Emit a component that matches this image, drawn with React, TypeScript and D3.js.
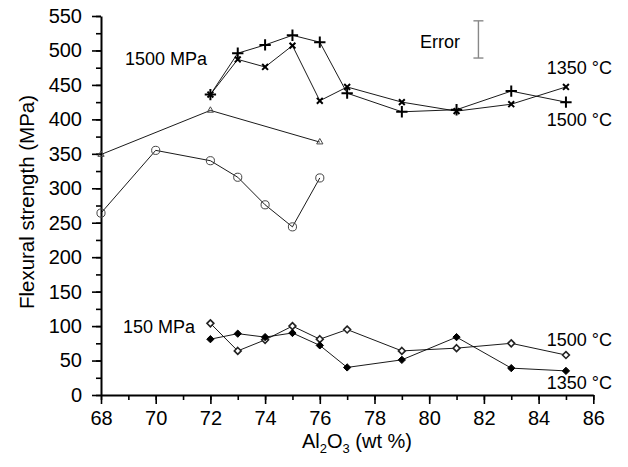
import React, { useEffect, useRef } from "react";
import * as d3 from "d3";

// flexural strength vs Al2O3 content, 1500 MPa and 150 MPa pressing

const plusX = [72, 73, 74, 75, 76, 77, 79, 81, 83, 85];
const plusY = [436, 496, 508, 522, 512, 438, 411, 414, 441, 425]; // 1500 °C
const timesX = [72, 73, 74, 75, 76, 77, 79, 81, 83, 85];
const timesY = [436, 487, 476, 507, 427, 447, 425, 412, 422, 447]; // 1350 °C
const triX = [68, 72, 76];
const triY = [349, 413, 367];
const circX = [68, 70, 72, 73, 74, 75, 76];
const circY = [264, 355, 340, 316, 276, 244, 315];
const openDiaX = [72, 73, 74, 75, 76, 77, 79, 81, 83, 85];
const openDiaY = [104, 64, 80, 100, 81, 95, 64, 68, 75, 58]; // 1500 °C
const fillDiaX = [72, 73, 74, 75, 76, 77, 79, 81, 83, 85];
const fillDiaY = [81, 89, 84, 90, 72, 40, 51, 84, 39, 35]; // 1350 °C

const xTicks = [68, 70, 72, 74, 76, 78, 80, 82, 84, 86];
const yTicks = [0, 50, 100, 150, 200, 250, 300, 350, 400, 450, 500, 550];
const errorBar = { x: 81.8, lo: 489, hi: 543 };

const FONT = "'Liberation Sans', Arial, sans-serif";

export default function App() {
  const svgRef = useRef<SVGSVGElement | null>(null);

  useEffect(() => {
    const svg = d3.select(svgRef.current);
    svg.selectAll("*").remove();

    const x = d3.scaleLinear().domain([68, 86]).range([101, 593.3]);
    const y = d3.scaleLinear().domain([0, 550]).range([395, 16]);

    const g = svg.append("g");

    // minor ticks
    g.append("g")
      .attr("transform", "translate(0,395)")
      .call(d3.axisBottom(x).tickValues(d3.range(68, 87, 1)).tickSize(5).tickFormat(() => "").tickSizeOuter(0))
      .call((s) => s.select(".domain").remove());
    g.append("g")
      .attr("transform", "translate(101,0)")
      .call(d3.axisLeft(y).tickValues(d3.range(0, 551, 25)).tickSize(5).tickFormat(() => "").tickSizeOuter(0))
      .call((s) => s.select(".domain").remove());

    const xAxis = g.append("g")
      .attr("transform", "translate(0,395)")
      .call(d3.axisBottom(x).tickValues(xTicks).tickSize(9).tickPadding(7).tickSizeOuter(0));
    const yAxis = g.append("g")
      .attr("transform", "translate(101,0)")
      .call(d3.axisLeft(y).tickValues(yTicks).tickSize(9).tickPadding(10).tickSizeOuter(0));

    [xAxis, yAxis].forEach((a) => {
      a.select(".domain").attr("stroke", "#000").attr("stroke-width", 2);
      a.selectAll("text").attr("font-size", 20).attr("font-family", FONT).attr("fill", "#000");
    });
    g.selectAll(".tick line").attr("stroke", "#000").attr("stroke-width", 1.6);

    const line = d3.line<[number, number]>().x((d) => x(d[0])).y((d) => y(d[1]));
    const zip = (xs: number[], ys: number[]) => xs.map((v, i) => [v, ys[i]] as [number, number]);

    const series = [
      { pts: zip(triX, triY), sym: d3.symbolTriangle2, size: 28, fill: "none", stroke: "#444", sw: 1 },
      { pts: zip(circX, circY), sym: d3.symbolCircle, size: 52, fill: "none", stroke: "#444", sw: 1 },
      { pts: zip(timesX, timesY), sym: d3.symbolTimes, size: 24, fill: "none", stroke: "#000", sw: 2 },
      { pts: zip(plusX, plusY), sym: d3.symbolPlus, size: 44, fill: "none", stroke: "#000", sw: 2 },
      { pts: zip(openDiaX, openDiaY), sym: d3.symbolDiamond2, size: 30, fill: "#fff", stroke: "#222", sw: 1.6 },
      { pts: zip(fillDiaX, fillDiaY), sym: d3.symbolDiamond2, size: 34, fill: "#000", stroke: "#000", sw: 1 },
    ];

    series.forEach((s) => {
      g.append("path")
        .datum(s.pts)
        .attr("fill", "none")
        .attr("stroke", "#000")
        .attr("stroke-width", 0.9)
        .attr("d", line);
    });
    series.forEach((s) => {
      g.append("g")
        .selectAll("path")
        .data(s.pts)
        .join("path")
        .attr("transform", (d) => `translate(${x(d[0])},${y(d[1])})`)
        .attr("d", d3.symbol(s.sym, s.size)())
        .attr("fill", s.fill)
        .attr("stroke", s.stroke)
        .attr("stroke-width", s.sw);
    });

    // error bar indicator
    const eb = g.append("g").attr("stroke", "#888").attr("stroke-width", 1.4);
    eb.append("line").attr("x1", x(errorBar.x)).attr("x2", x(errorBar.x)).attr("y1", y(errorBar.lo)).attr("y2", y(errorBar.hi));
    eb.append("line").attr("x1", x(errorBar.x) - 5).attr("x2", x(errorBar.x) + 5).attr("y1", y(errorBar.lo)).attr("y2", y(errorBar.lo));
    eb.append("line").attr("x1", x(errorBar.x) - 5).attr("x2", x(errorBar.x) + 5).attr("y1", y(errorBar.hi)).attr("y2", y(errorBar.hi));

    const label = (tx: number, ty: number, t: string, anchor = "start") =>
      g.append("text")
        .attr("x", tx)
        .attr("y", ty)
        .attr("text-anchor", anchor)
        .attr("font-family", FONT)
        .attr("font-size", 18)
        .attr("fill", "#000")
        .text(t);

    label(125, 65, "1500 MPa");
    label(123, 333, "150 MPa");
    label(420, 48, "Error");
    label(612, 74, "1350 °C", "end");
    label(612, 126, "1500 °C", "end");
    label(612, 346, "1500 °C", "end");
    label(612, 389, "1350 °C", "end");

    // axis titles
    const xt = g.append("text")
      .attr("x", 357)
      .attr("y", 448)
      .attr("text-anchor", "middle")
      .attr("font-family", FONT)
      .attr("font-size", 20)
      .attr("fill", "#000");
    xt.append("tspan").text("Al");
    xt.append("tspan").attr("font-size", 13).attr("dy", 5).text("2");
    xt.append("tspan").attr("dy", -5).text("O");
    xt.append("tspan").attr("font-size", 13).attr("dy", 5).text("3");
    xt.append("tspan").attr("dy", -5).text(" (wt %)");

    g.append("text")
      .attr("transform", "translate(34,202) rotate(-90)")
      .attr("text-anchor", "middle")
      .attr("font-family", FONT)
      .attr("font-size", 20.5)
      .attr("fill", "#000")
      .text("Flexural strength (MPa)");
  }, []);

  return (
    <div style={{ position: "absolute", left: 0, top: 0, width: 628, height: 467, background: "#fff" }}>
      <svg ref={svgRef} width={628} height={467} />
    </div>
  );
}
